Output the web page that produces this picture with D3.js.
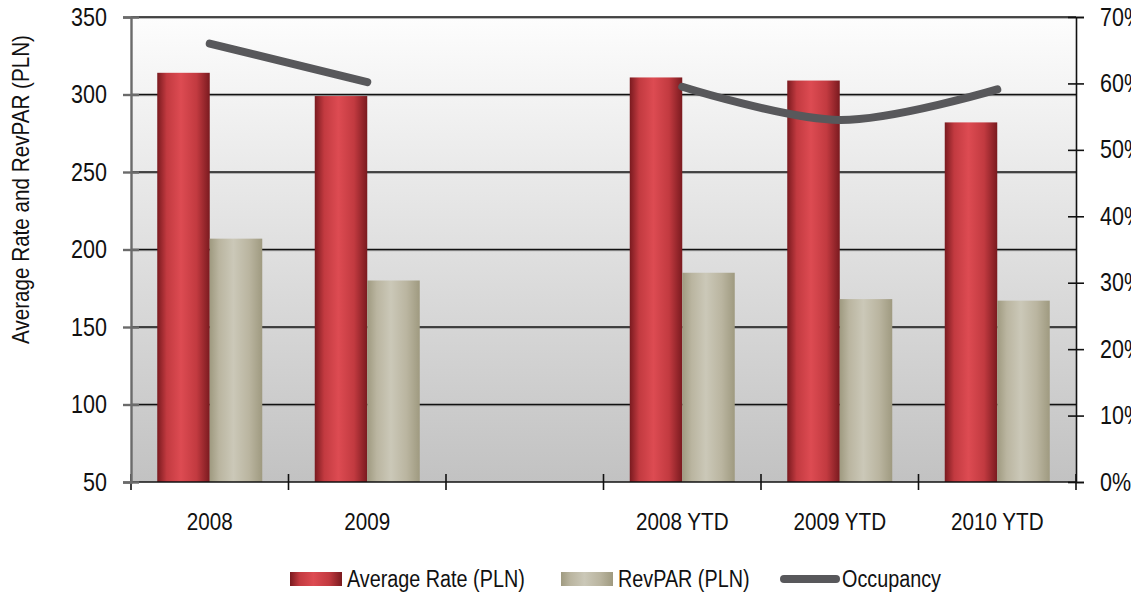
<!DOCTYPE html>
<html>
<head>
<meta charset="utf-8">
<script src="https://cdn.jsdelivr.net/npm/d3@7"></script>
<style>
  html, body { margin: 0; padding: 0; background: #ffffff; }
  svg { display: block; }
  text { font-family: "Liberation Sans", Arial, sans-serif; fill: #111; }
</style>
</head>
<body>
<svg id="chart" width="1131" height="596"></svg>
<script>
// Hotel performance: average rate and RevPAR (PLN) with occupancy on the right axis
const categories = ["2008", "2009", "", "2008 YTD", "2009 YTD", "2010 YTD"];
const averageRate = [314, 299, null, 311, 309, 282];
const revPAR = [207, 180, null, 185, 168, 167];
const occupancy = [0.66, 0.602, null, 0.595, 0.545, 0.591];
const leftTicks = [50, 100, 150, 200, 250, 300, 350];
const rightTicks = [0, 0.1, 0.2, 0.3, 0.4, 0.5, 0.6, 0.7];
const seriesNames = ["Average Rate (PLN)", "RevPAR (PLN)", "Occupancy"];

const FONT = "'Liberation Sans', Arial, sans-serif";
const NARROW = 0.86; // condensed look for all labels

const svg = d3.select("#chart");
const margin = { left: 131, right: 1076, top: 17, bottom: 482 };

// distinct keys so the empty slot still gets a band
const keys = categories.map((c, i) => i);

const x = d3.scaleBand().domain(keys).range([margin.left, margin.right]).padding(0);
const xs = d3.scaleBand().domain([0, 1]).range([0, x.bandwidth()]).paddingInner(0).paddingOuter(0.5);
const y = d3.scaleLinear().domain([50, 350]).range([margin.bottom, margin.top]);
const y2 = d3.scaleLinear().domain([0, 0.7]).range([margin.bottom, margin.top]);

const defs = svg.append("defs");

const bg = defs.append("linearGradient").attr("id", "plotBg").attr("x1", 0).attr("y1", 0).attr("x2", 0).attr("y2", 1);
bg.append("stop").attr("offset", "0%").attr("stop-color", "#fdfdfd");
bg.append("stop").attr("offset", "100%").attr("stop-color", "#c2c2c2");

function barGradient(id, edge, mid, light) {
  const g = defs.append("linearGradient").attr("id", id).attr("x1", 0).attr("y1", 0).attr("x2", 1).attr("y2", 0);
  g.append("stop").attr("offset", "0%").attr("stop-color", edge);
  g.append("stop").attr("offset", "18%").attr("stop-color", mid);
  g.append("stop").attr("offset", "45%").attr("stop-color", light);
  g.append("stop").attr("offset", "75%").attr("stop-color", mid);
  g.append("stop").attr("offset", "100%").attr("stop-color", edge);
}
barGradient("redBar", "#7a1a1f", "#c23a40", "#dd4b52");
barGradient("beigeBar", "#9f9a80", "#bab5a0", "#cbc8b8");

// plot background
svg.append("rect")
  .attr("x", margin.left).attr("y", margin.top)
  .attr("width", margin.right - margin.left).attr("height", margin.bottom - margin.top)
  .attr("fill", "url(#plotBg)");

// horizontal gridlines
const grid = svg.append("g");
leftTicks.filter(t => t > 50).forEach(t => {
  grid.append("line")
    .attr("x1", margin.left).attr("x2", margin.right)
    .attr("y1", y(t) + 1.2).attr("y2", y(t) + 1.2)
    .attr("stroke", "#9a9a9a").attr("stroke-width", 1);
  grid.append("line")
    .attr("x1", margin.left).attr("x2", margin.right)
    .attr("y1", y(t)).attr("y2", y(t))
    .attr("stroke", "#111").attr("stroke-width", 1.4);
});

// bars
const groups = svg.append("g").selectAll("g")
  .data(keys)
  .join("g")
  .attr("transform", k => `translate(${x(k)},0)`);

[averageRate, revPAR].forEach((vals, si) => {
  groups.filter(k => vals[k] != null)
    .append("rect")
    .attr("x", xs(si))
    .attr("width", xs.bandwidth())
    .attr("y", k => y(vals[k]))
    .attr("height", k => y(50) - y(vals[k]))
    .attr("fill", si === 0 ? "url(#redBar)" : "url(#beigeBar)");
});

// bottom axis
const xAxis = svg.append("g").attr("transform", `translate(0,${margin.bottom})`);
xAxis.append("line").attr("x1", margin.left).attr("x2", margin.right)
  .attr("stroke", "#111").attr("stroke-width", 1.6);
const tickXs = keys.map(k => x(k)).concat([margin.right]);
xAxis.selectAll("line.tick").data(tickXs).join("line").attr("class", "tick")
  .attr("x1", d => d).attr("x2", d => d).attr("y1", -8).attr("y2", 8)
  .attr("stroke", "#111").attr("stroke-width", 1.6);
xAxis.selectAll("text").data(keys).join("text")
  .attr("x", k => x(k) + x.bandwidth() / 2)
  .attr("y", 48)
  .attr("text-anchor", "middle")
  .attr("font-size", 24)
  .text(k => categories[k]);

// left axis
const yAxis = svg.append("g").attr("transform", `translate(${margin.left},0)`)
  .call(d3.axisLeft(y).tickValues(leftTicks).tickSize(8).tickPadding(16));
yAxis.select(".domain").attr("stroke", "#6b6b6b").attr("stroke-width", 2.4);
yAxis.selectAll(".tick line").attr("stroke", "#6b6b6b").attr("stroke-width", 2.4).attr("x2", 8).attr("x1", -8);
yAxis.selectAll(".tick text").attr("font-size", 25).attr("fill", "#111").attr("font-family", FONT);

// right axis
const y2Axis = svg.append("g").attr("transform", `translate(${margin.right},0)`)
  .call(d3.axisRight(y2).tickValues(rightTicks).tickFormat(d3.format(".0%")).tickSize(8).tickPadding(16));
y2Axis.select(".domain").attr("stroke", "#111").attr("stroke-width", 1.6);
y2Axis.selectAll(".tick line").attr("stroke", "#111").attr("stroke-width", 1.6).attr("x1", -8).attr("x2", 8);
y2Axis.selectAll(".tick text").attr("font-size", 25).attr("fill", "#111").attr("font-family", FONT);

// left axis title
svg.append("text")
  .attr("class", "title")
  .attr("transform", `translate(29,${(margin.top + margin.bottom) / 2 - 60}) rotate(-90)`)
  .attr("text-anchor", "middle")
  .attr("font-size", 24)
  .text("Average Rate and RevPAR (PLN)");

// occupancy line
const line = d3.line()
  .defined(d => d.v != null)
  .x(d => x(d.k) + x.bandwidth() / 2)
  .y(d => y2(d.v))
  .curve(d3.curveCatmullRom.alpha(0.5));
svg.append("path")
  .datum(keys.map(k => ({ k, v: occupancy[k] })))
  .attr("d", line)
  .attr("fill", "none")
  .attr("stroke", "#58585b")
  .attr("stroke-width", 8)
  .attr("stroke-linecap", "round")
  .attr("stroke-linejoin", "round");

// legend
const legend = svg.append("g").attr("transform", "translate(0,579)");
const legendItems = [
  { name: seriesNames[0], x: 290, type: "bar", fill: "url(#redBar)" },
  { name: seriesNames[1], x: 561, type: "bar", fill: "url(#beigeBar)" },
  { name: seriesNames[2], x: 780, type: "line" }
];
legendItems.forEach(it => {
  if (it.type === "bar") {
    legend.append("rect").attr("x", it.x).attr("y", -7).attr("width", 52).attr("height", 14).attr("fill", it.fill);
  } else {
    legend.append("line").attr("x1", it.x + 4).attr("x2", it.x + 56).attr("y1", 0).attr("y2", 0)
      .attr("stroke", "#58585b").attr("stroke-width", 8).attr("stroke-linecap", "round");
  }
  legend.append("text")
    .attr("x", it.x + (it.type === "bar" ? 57 : 62))
    .attr("y", 8)
    .attr("font-size", 23)
    .text(it.name);
});

// squeeze every label horizontally for a condensed typeface
svg.selectAll("text").each(function () {
  const w = this.getComputedTextLength();
  if (w > 0) {
    this.setAttribute("textLength", (w * NARROW).toFixed(1));
    this.setAttribute("lengthAdjust", "spacingAndGlyphs");
  }
});
</script>
</body>
</html>
